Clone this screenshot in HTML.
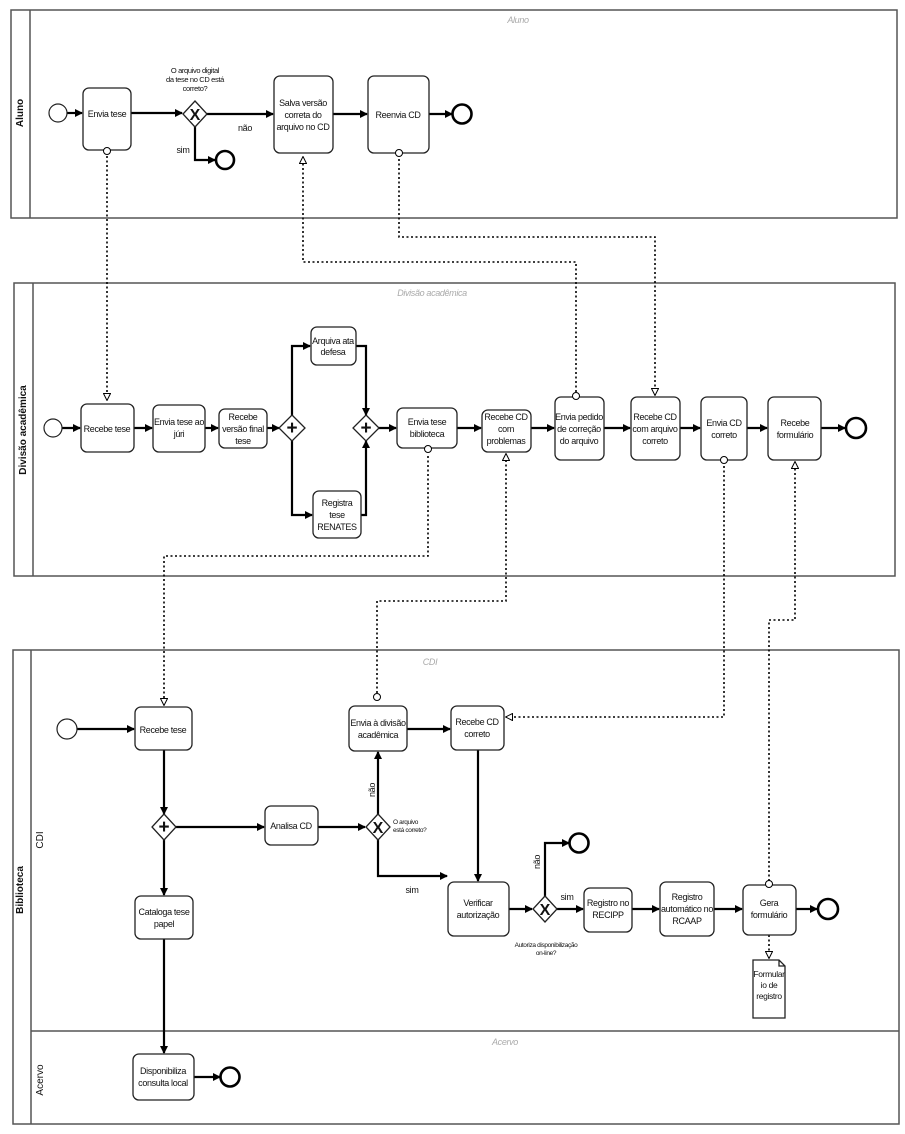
<!DOCTYPE html>
<html><head><meta charset="utf-8"><style>
html,body{margin:0;padding:0;background:#fff;}
svg{display:block;}
text{font-family:"Liberation Sans Narrow","Liberation Sans",sans-serif;font-size:9px;letter-spacing:-0.35px;fill:#111;text-anchor:middle;}
.t{stroke:#222;stroke-width:1.3;fill:#fff;}
.f{stroke:#000;stroke-width:2.2;fill:none;}
.m{stroke:#000;stroke-width:1.6;fill:none;stroke-dasharray:2 2.5;}
.p{stroke:#555;stroke-width:1.5;fill:none;}
.lab{font-family:"Liberation Sans",sans-serif;font-size:10px;font-weight:bold;letter-spacing:0;}
.gl{fill:#aaa;font-style:italic;font-size:9px;}
</style></head><body>
<svg width="905" height="1134" viewBox="0 0 905 1134" xmlns="http://www.w3.org/2000/svg">
<defs>
<marker id="a" markerWidth="8" markerHeight="8" refX="7" refY="4" orient="auto" markerUnits="userSpaceOnUse"><path d="M0,0 L8,4 L0,8z" fill="#000"/></marker>
<marker id="o" markerWidth="8" markerHeight="8" refX="7" refY="4" orient="auto" markerUnits="userSpaceOnUse"><path d="M0.5,0.5 L7.5,4 L0.5,7.5z" fill="#fff" stroke="#000" stroke-width="1"/></marker>
</defs>
<!-- pools -->
<rect x="11" y="10" width="886" height="208" class="p"/><line x1="30" y1="10" x2="30" y2="218" class="p"/>
<rect x="14" y="283" width="881" height="293" class="p"/><line x1="33" y1="283" x2="33" y2="576" class="p"/>
<rect x="13" y="650" width="886" height="474" class="p"/><line x1="31" y1="650" x2="31" y2="1124" class="p"/>
<line x1="31" y1="1031" x2="899" y2="1031" class="p"/>
<text class="lab" transform="translate(23,113) rotate(-90)">Aluno</text>
<text class="lab" transform="translate(26,430) rotate(-90)">Divisão acadêmica</text>
<text class="lab" transform="translate(23,890) rotate(-90)">Biblioteca</text>
<text class="lab" transform="translate(43,840) rotate(-90)" style="font-weight:normal">CDI</text>
<text class="lab" transform="translate(43,1080) rotate(-90)" style="font-weight:normal">Acervo</text>
<text class="gl" x="518" y="23">Aluno</text>
<text class="gl" x="432" y="296">Divisão acadêmica</text>
<text class="gl" x="430" y="665">CDI</text>
<text class="gl" x="505" y="1045">Acervo</text>

<!-- message flows -->
<path d="M107,156 V400" class="m" marker-end="url(#o)"/>
<path d="M576,392 V262 H303 V157" class="m" marker-end="url(#o)"/>
<path d="M399,159 V237 H655 V395" class="m" marker-end="url(#o)"/>
<path d="M428,456 V556 H164 V705" class="m" marker-end="url(#o)"/>
<path d="M377,693 V601 H506 V454" class="m" marker-end="url(#o)"/>
<path d="M724,466 V717 H506" class="m" marker-end="url(#o)"/>
<path d="M769,881 V620 H795 V462" class="m" marker-end="url(#o)"/>
<path d="M769,935 V958" class="m" marker-end="url(#o)"/>

<!-- sequence flows Aluno -->
<path d="M67,113 H82" class="f" marker-end="url(#a)"/>
<path d="M131,113 H182" class="f" marker-end="url(#a)"/>
<path d="M207,114 H273" class="f" marker-end="url(#a)"/>
<path d="M195,126 V160 H215" class="f" marker-end="url(#a)"/>
<path d="M333,114 H367" class="f" marker-end="url(#a)"/>
<path d="M429,114 H452" class="f" marker-end="url(#a)"/>
<!-- Div -->
<path d="M62,428 H80" class="f" marker-end="url(#a)"/>
<path d="M134,428 H152" class="f" marker-end="url(#a)"/>
<path d="M205,428 H218" class="f" marker-end="url(#a)"/>
<path d="M267,428 H279" class="f" marker-end="url(#a)"/>
<path d="M292,416 V346 H310" class="f" marker-end="url(#a)"/>
<path d="M292,440 V515 H312" class="f" marker-end="url(#a)"/>
<path d="M356,346 H366 V415" class="f" marker-end="url(#a)"/>
<path d="M361,515 H366 V441" class="f" marker-end="url(#a)"/>
<path d="M378,428 H396" class="f" marker-end="url(#a)"/>
<path d="M457,428 H481" class="f" marker-end="url(#a)"/>
<path d="M531,428 H554" class="f" marker-end="url(#a)"/>
<path d="M604,428 H630" class="f" marker-end="url(#a)"/>
<path d="M680,428 H700" class="f" marker-end="url(#a)"/>
<path d="M747,428 H767" class="f" marker-end="url(#a)"/>
<path d="M821,428 H845" class="f" marker-end="url(#a)"/>
<!-- Bib -->
<path d="M77,729 H134" class="f" marker-end="url(#a)"/>
<path d="M164,750 V814" class="f" marker-end="url(#a)"/>
<path d="M176,827 H264" class="f" marker-end="url(#a)"/>
<path d="M164,839 V895" class="f" marker-end="url(#a)"/>
<path d="M164,939 V1053" class="f" marker-end="url(#a)"/>
<path d="M194,1077 H220" class="f" marker-end="url(#a)"/>
<path d="M318,827 H365" class="f" marker-end="url(#a)"/>
<path d="M378,815 V752" class="f" marker-end="url(#a)"/>
<path d="M378,839 V876 H447" class="f" marker-end="url(#a)"/>
<path d="M407,729 H450" class="f" marker-end="url(#a)"/>
<path d="M478,750 V881" class="f" marker-end="url(#a)"/>
<path d="M509,909 H532" class="f" marker-end="url(#a)"/>
<path d="M545,897 V843 H569" class="f" marker-end="url(#a)"/>
<path d="M557,909 H583" class="f" marker-end="url(#a)"/>
<path d="M632,909 H659" class="f" marker-end="url(#a)"/>
<path d="M714,909 H742" class="f" marker-end="url(#a)"/>
<path d="M796,909 H817" class="f" marker-end="url(#a)"/>

<!-- events -->
<circle cx="58" cy="113" r="9" fill="#fff" stroke="#222" stroke-width="1.2"/>
<circle cx="462" cy="114" r="9.5" fill="#fff" stroke="#000" stroke-width="2.6"/>
<circle cx="225" cy="160" r="9" fill="#fff" stroke="#000" stroke-width="2.6"/>
<circle cx="53" cy="428" r="9" fill="#fff" stroke="#222" stroke-width="1.2"/>
<circle cx="856" cy="428" r="10" fill="#fff" stroke="#000" stroke-width="2.6"/>
<circle cx="67" cy="729" r="10" fill="#fff" stroke="#222" stroke-width="1.2"/>
<circle cx="230" cy="1077" r="9.5" fill="#fff" stroke="#000" stroke-width="2.6"/>
<circle cx="579" cy="843" r="9.5" fill="#fff" stroke="#000" stroke-width="2.6"/>
<circle cx="828" cy="909" r="10" fill="#fff" stroke="#000" stroke-width="2.6"/>

<!-- tasks -->
<g class="t">
<rect x="83" y="88" width="48" height="62" rx="6"/>
<rect x="274" y="76" width="59" height="77" rx="6"/>
<rect x="368" y="76" width="61" height="77" rx="6"/>
<rect x="81" y="404" width="53" height="48" rx="6"/>
<rect x="153" y="405" width="52" height="47" rx="6"/>
<rect x="219" y="409" width="48" height="39" rx="6"/>
<rect x="311" y="327" width="45" height="38" rx="6"/>
<rect x="313" y="491" width="48" height="47" rx="6"/>
<rect x="397" y="408" width="60" height="40" rx="6"/>
<rect x="482" y="410" width="49" height="42" rx="6"/>
<rect x="555" y="397" width="49" height="63" rx="6"/>
<rect x="631" y="397" width="49" height="63" rx="6"/>
<rect x="701" y="397" width="46" height="63" rx="6"/>
<rect x="768" y="397" width="53" height="63" rx="6"/>
<rect x="135" y="707" width="57" height="43" rx="6"/>
<rect x="265" y="806" width="53" height="39" rx="6"/>
<rect x="349" y="706" width="58" height="45" rx="6"/>
<rect x="451" y="706" width="53" height="44" rx="6"/>
<rect x="135" y="896" width="58" height="43" rx="6"/>
<rect x="133" y="1054" width="61" height="46" rx="6"/>
<rect x="448" y="882" width="61" height="54" rx="6"/>
<rect x="584" y="888" width="48" height="44" rx="6"/>
<rect x="660" y="882" width="54" height="54" rx="6"/>
<rect x="743" y="885" width="53" height="50" rx="6"/>
<path d="M753,960 H779 L785,966 V1018 H753 Z M779,960 V966 H785"/>
</g>
<!-- message endpoints -->
<g fill="#fff" stroke="#000" stroke-width="1">
<circle cx="107" cy="151" r="3.5"/><circle cx="399" cy="153" r="3.5"/>
<circle cx="576" cy="396" r="3.5"/><circle cx="428" cy="449" r="3.5"/>
<circle cx="724" cy="460" r="3.5"/><circle cx="377" cy="697" r="3.5"/>
<circle cx="769" cy="884" r="3.5"/>
</g>
<!-- gateways -->
<g fill="#fff" stroke="#222" stroke-width="1.3">
<path d="M195,101 L207,114 L195,127 L183,114Z"/>
<path d="M292,415 L305,428 L292,441 L279,428Z"/>
<path d="M366,415 L379,428 L366,441 L353,428Z"/>
<path d="M164,814 L176,827 L164,840 L152,827Z"/>
<path d="M378,814 L390,827 L378,840 L366,827Z"/>
<path d="M545,896 L557,909 L545,922 L533,909Z"/>
</g>
<g font-family="Liberation Sans" font-weight="bold">
<text x="195" y="120" style="font-size:16px;font-weight:bold;letter-spacing:0">X</text>
<text x="378" y="833" style="font-size:16px;font-weight:bold;letter-spacing:0">X</text>
<text x="545" y="915" style="font-size:16px;font-weight:bold;letter-spacing:0">X</text>
<text x="292" y="434" style="font-size:19px;font-weight:bold;letter-spacing:0">+</text>
<text x="366" y="434" style="font-size:19px;font-weight:bold;letter-spacing:0">+</text>
<text x="164" y="833" style="font-size:19px;font-weight:bold;letter-spacing:0">+</text>
</g>

<!-- task labels -->
<text x="107" y="117">Envia tese</text>
<text x="303" y="106">Salva versão</text><text x="303" y="118">correta do</text><text x="303" y="130">arquivo no CD</text>
<text x="398" y="118">Reenvia CD</text>
<text x="107" y="432">Recebe tese</text>
<text x="179" y="425">Envia tese ao</text><text x="179" y="437">júri</text>
<text x="243" y="420">Recebe</text><text x="243" y="432">versão final</text><text x="243" y="444">tese</text>
<text x="333" y="344">Arquiva ata</text><text x="333" y="355">defesa</text>
<text x="337" y="506">Registra</text><text x="337" y="518">tese</text><text x="337" y="530">RENATES</text>
<text x="427" y="425">Envia tese</text><text x="427" y="437">biblioteca</text>
<text x="506" y="420">Recebe CD</text><text x="506" y="432">com</text><text x="506" y="444">problemas</text>
<text x="579" y="420">Envia pedido</text><text x="579" y="432">de correção</text><text x="579" y="444">do arquivo</text>
<text x="655" y="420">Recebe CD</text><text x="655" y="432">com arquivo</text><text x="655" y="444">correto</text>
<text x="724" y="426">Envia CD</text><text x="724" y="438">correto</text>
<text x="795" y="426">Recebe</text><text x="795" y="438">formulário</text>
<text x="163" y="733">Recebe tese</text>
<text x="291" y="829">Analisa CD</text>
<text x="378" y="726">Envia à divisão</text><text x="378" y="738">acadêmica</text>
<text x="477" y="725">Recebe CD</text><text x="477" y="737">correto</text>
<text x="164" y="915">Cataloga tese</text><text x="164" y="927">papel</text>
<text x="163" y="1074">Disponibiliza</text><text x="163" y="1086">consulta local</text>
<text x="478" y="906">Verificar</text><text x="478" y="918">autorização</text>
<text x="608" y="906">Registro no</text><text x="608" y="918">RECIPP</text>
<text x="687" y="900">Registro</text><text x="687" y="912">automático no</text><text x="687" y="924">RCAAP</text>
<text x="769" y="906">Gera</text><text x="769" y="918">formulário</text>
<text x="769" y="977" style="font-size:8.5px">Formular</text><text x="769" y="988" style="font-size:8.5px">io de</text><text x="769" y="999" style="font-size:8.5px">registro</text>
<!-- flow labels -->
<text x="195" y="73" style="font-size:7.5px">O arquivo digital</text>
<text x="195" y="82" style="font-size:7.5px">da tese no CD está</text>
<text x="195" y="91" style="font-size:7.5px">correto?</text>
<text x="393" y="824" style="font-size:6.5px;text-anchor:start">O arquivo</text>
<text x="393" y="832" style="font-size:6.5px;text-anchor:start">está correto?</text>
<text x="546" y="947" style="font-size:6.5px">Autoriza disponibilização</text>
<text x="546" y="955" style="font-size:6.5px">on-line?</text>
<text x="245" y="131">não</text>
<text x="183" y="153">sim</text>
<text x="412" y="893">sim</text>
<text x="567" y="900">sim</text>
<text transform="translate(375,790) rotate(-90)" style="font-family:'Liberation Sans';font-size:9px">não</text>
<text transform="translate(540,862) rotate(-90)" style="font-family:'Liberation Sans';font-size:9px">não</text>
</svg>
</body></html>
